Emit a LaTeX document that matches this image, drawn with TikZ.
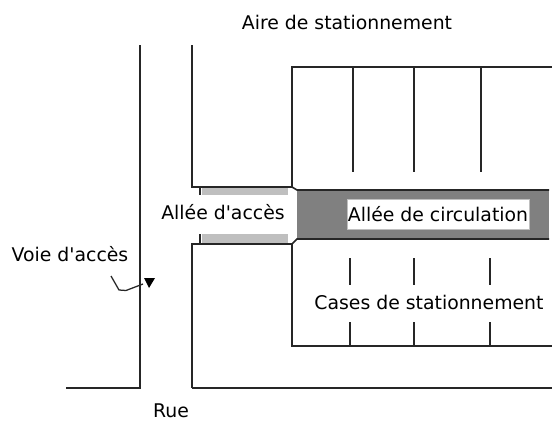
\documentclass[tikz,border=0pt]{standalone}
\usepackage{fontspec}
\setmainfont{DejaVu Sans}
\usepackage{xcolor}
\usetikzlibrary{positioning,arrows}

\begin{document}
\begin{tikzpicture}[
    x=0.025cm, y=-0.025cm,
    wall/.style={draw=black!85, line width=1.15pt},
    label/.style={inner sep=0pt, font=\fontsize{13.4}{15}\selectfont},
]
\useasboundingbox (0,0) rectangle (552,434);

% Aisle and access strips
\fill[black!50] (297,190) rectangle (549,239);
\fill[black!25] (202,188) rectangle (288,195);
\fill[black!25] (202,234) rectangle (288,244);

% Access road
\draw[wall] (140,45) -- (140,388) -- (66,388);

% Upper block
\draw[wall] (192,45) -- (192,187) -- (292,187) -- (292,67) -- (552,67);
\draw[wall] (200,187) -- (200,195);
\draw[wall] (292,187) -- (297,190) -- (549,190);
\foreach \xpos in {353,414,481}
    \draw[wall] (\xpos,67) -- (\xpos,172);

% Lower block
\draw[wall] (192,388) -- (192,244) -- (292,244) -- (292,346) -- (552,346);
\draw[wall] (200,234) -- (200,244);
\draw[wall] (292,244) -- (297,239) -- (549,239);
\draw[wall] (192,388) -- (552,388);
\foreach \xpos in {350,414,490} {
    \draw[wall] (\xpos,258) -- (\xpos,285);
    \draw[wall] (\xpos,322) -- (\xpos,346);
}

% Pointer to the road
\coordinate (pointerstart) at (111,276);
\coordinate (pointerend) at (143,284);
\draw[black!85, line width=0.9pt] (pointerstart) -- (119,290) -- (126,290.5) -- (pointerend);
\fill[black] (144,278) -- (155,278) -- (149,288) -- cycle;

% Labels
\node[label] (parking) at (347,22) {Aire de stationnement};
\node[label] (access) at (223,212) {Allée d\textquotesingle accès};
\node[label, fill=white, draw=black!25, line width=0.5pt, minimum width=182*0.025cm, minimum height=30*0.025cm] (aisle) at (438,214) {Allée de circulation};
\node[label] (spaces) at (429,302) {Cases de stationnement};
\node[label] (road) at (70,254) {Voie d\textquotesingle accès};
\node[label] (street) at (171,411) {Rue};

\end{tikzpicture}
\end{document}
